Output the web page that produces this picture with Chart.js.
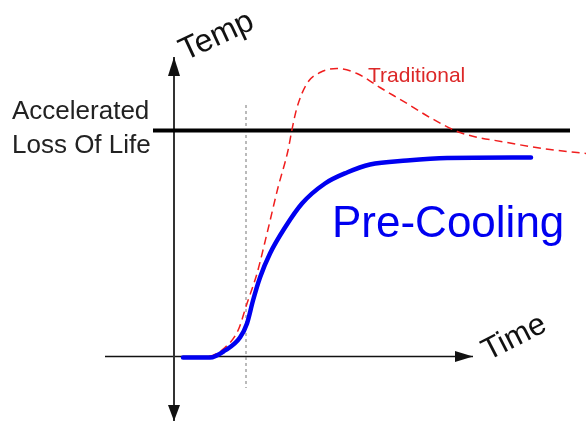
<!DOCTYPE html>
<html lang="en">
<head>
    <meta charset="UTF-8">
    <title>Pre-Cooling vs Traditional</title>
    <script src="https://cdn.jsdelivr.net/npm/chart.js"></script>
    <style>
        body {
            margin: 0;
            padding: 0;
            background-color: #ffffff;
        }

        .chart-box {
            width: 586px;
            height: 424px;
            position: relative;
        }
    </style>
</head>
<body>
    <div class="chart-box">
        <canvas id="chart1"></canvas>
    </div>
    <script>
        // time / temperature in arbitrary units, origin where the axes cross
        var preCoolTime = [0.9, 3.6, 5.1, 6.6, 7.3, 7.9, 8.6, 9.6, 11.1, 12.8, 15.1, 17.3, 19.6, 23.3, 27.3, 35.7];
        var preCoolTemp = [-0.1, -0.1, 0.6, 1.9, 3.3, 5.6, 7.9, 10.3, 12.9, 15.3, 17.3, 18.4, 19.2, 19.6, 19.85, 19.9];

        var tradTime = [0.9, 3.4, 5.1, 6.4, 7.3, 8.3, 9.3, 10.4, 11.4, 11.8, 12.3, 13.3, 14.6, 16.3, 18.3, 20.6, 23.3, 25.6, 28.6, 33.3, 37.6, 41.3];
        var tradTemp = [-0.1, 0, 0.9, 2.6, 5.3, 8.3, 12.3, 16.9, 20.6, 22.7, 24.9, 27.3, 28.4, 28.8, 28.3, 26.9, 25.3, 23.9, 22.4, 21.4, 20.7, 20.3];

        var lossOfLifeTemp = 22.6;
        var lossOfLifeSpan = [-2.1, 39.6];
        var switchTime = 7.2;
        var switchSpan = [25.15, -3.15];
        var tempAxisSpan = [29.95, -6.45];
        var timeAxisSpan = [-6.9, 29.9];

        var labels = {
            temp: 'Temp',
            time: 'Time',
            limit: ['Accelerated', 'Loss Of Life'],
            trad: 'Traditional',
            preCool: 'Pre-Cooling'
        };

        function zip(xs, ys) {
            return xs.map(function (x, i) { return { x: x, y: ys[i] }; });
        }

        // arrowheads and free text, placed through the scales
        var annotate = {
            id: 'annotate',
            afterDatasetsDraw: function (chart) {
                var c = chart.ctx;
                var sx = chart.scales.x, sy = chart.scales.y;
                var px = function (v) { return sx.getPixelForValue(v); };
                var py = function (v) { return sy.getPixelForValue(v); };

                c.save();
                c.fillStyle = '#111';
                // up arrow
                var ax = px(0), top = py(tempAxisSpan[0]), bot = py(tempAxisSpan[1]);
                c.beginPath();
                c.moveTo(ax, top); c.lineTo(ax - 6, top + 19); c.lineTo(ax + 6, top + 19); c.closePath(); c.fill();
                // down arrow
                c.beginPath();
                c.moveTo(ax, bot); c.lineTo(ax - 6, bot - 16); c.lineTo(ax + 6, bot - 16); c.closePath(); c.fill();
                // right arrow
                var ay = py(0), right = px(timeAxisSpan[1]);
                c.beginPath();
                c.moveTo(right, ay); c.lineTo(right - 18, ay - 5.5); c.lineTo(right - 18, ay + 5.5); c.closePath(); c.fill();

                c.textBaseline = 'alphabetic';
                c.textAlign = 'left';

                // rotated axis names
                c.font = '32px Arial, "Liberation Sans", sans-serif';
                c.save();
                c.translate(px(1.1), py(29.55));
                c.rotate(-25 * Math.PI / 180);
                c.fillText(labels.temp, 0, 0);
                c.restore();

                c.font = '31px Arial, "Liberation Sans", sans-serif';
                c.save();
                c.translate(px(31.4), py(-0.45));
                c.rotate(-27 * Math.PI / 180);
                c.fillText(labels.time, 0, 0);
                c.restore();

                c.fillStyle = '#222';
                c.font = '26px Arial, "Liberation Sans", sans-serif';
                c.fillText(labels.limit[0], px(-16.2), py(23.75));
                c.fillText(labels.limit[1], px(-16.2), py(20.35));

                c.fillStyle = 'rgb(220,40,40)';
                c.font = '21px Arial, "Liberation Sans", sans-serif';
                c.fillText(labels.trad, px(19.4), py(27.45));

                c.fillStyle = '#0000f0';
                c.font = '44px Arial, "Liberation Sans", sans-serif';
                c.fillText(labels.preCool, px(15.8), py(11.95));
                c.restore();
            }
        };

        var ctx1 = document.getElementById('chart1').getContext('2d');
        var chart1 = new Chart(ctx1, {
            type: 'line',
            data: {
                datasets: [{
                    label: 'Pre-Cooling',
                    data: zip(preCoolTime, preCoolTemp),
                    borderColor: '#0000f0',
                    borderWidth: 4.5,
                    cubicInterpolationMode: 'monotone',
                    borderCapStyle: 'round'
                }, {
                    label: 'Traditional',
                    data: zip(tradTime, tradTemp),
                    borderColor: 'rgb(240,30,30)',
                    borderWidth: 1.5,
                    borderDash: [8, 5],
                    cubicInterpolationMode: 'monotone'
                }, {
                    label: 'Loss of life',
                    data: zip(lossOfLifeSpan, [lossOfLifeTemp, lossOfLifeTemp]),
                    borderColor: '#000',
                    borderWidth: 4
                }, {
                    label: 'Switch',
                    data: zip([switchTime, switchTime], switchSpan),
                    borderColor: '#777',
                    borderWidth: 1,
                    borderDash: [3, 3]
                }, {
                    label: 'Temp axis',
                    data: zip([0, 0], tempAxisSpan),
                    borderColor: '#333',
                    borderWidth: 2
                }, {
                    label: 'Time axis',
                    data: zip(timeAxisSpan, [0, 0]),
                    borderColor: '#111',
                    borderWidth: 1.5
                }]
            },
            options: {
                responsive: true,
                maintainAspectRatio: false,
                animation: false,
                layout: { padding: 0 },
                elements: { point: { radius: 0 } },
                plugins: {
                    legend: { display: false },
                    tooltip: { enabled: false }
                },
                scales: {
                    x: { type: 'linear', min: -17.4, max: 41.2, display: false },
                    y: { type: 'linear', min: -6.75, max: 35.65, display: false }
                }
            },
            plugins: [annotate]
        });
    </script>
</body>
</html>
